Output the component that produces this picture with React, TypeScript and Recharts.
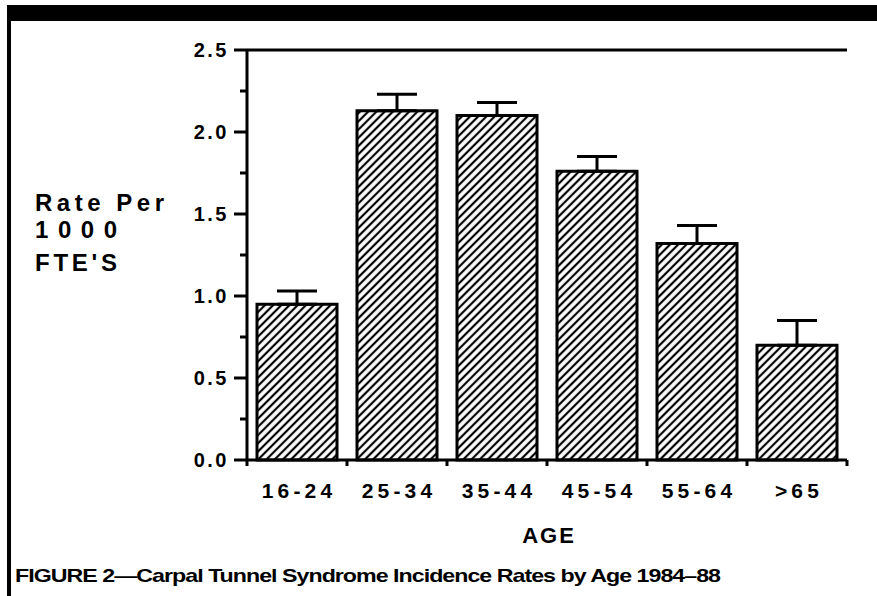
import React from 'react';
import { BarChart, Bar, XAxis, YAxis, ErrorBar, ReferenceLine } from 'recharts';

const ages = ['16-24', '25-34', '35-44', '45-54', '55-64', '>65'];
const rates = [0.95, 2.13, 2.1, 1.76, 1.32, 0.7];
const errUp = [0.08, 0.1, 0.08, 0.09, 0.11, 0.15];
const yTicks = [0, 0.25, 0.5, 0.75, 1, 1.25, 1.5, 1.75, 2, 2.25, 2.5];

const chartData = ages.map((age, i) => ({ age, rate: rates[i], err: [0, errUp[i]] }));

const FONT = '"Liberation Sans", Arial, Helvetica, sans-serif';

const YTick = ({ x, y, payload }: any) => {
  const major = Math.round(payload.value * 100) % 50 === 0;
  return (
    <g>
      <line x1={x - (major ? 13 : 7)} x2={x} y1={y} y2={y} stroke="#000" strokeWidth={3} />
      {major && (
        <text x={x - 18} y={y} dy={7} textAnchor="end" fontFamily={FONT} fontSize={20} fontWeight={700} letterSpacing={2.5} fill="#000">
          {payload.value.toFixed(1)}
        </text>
      )}
    </g>
  );
};

const XTick = ({ x, y, payload, index }: any) => {
  const half = payload.offset || 50;
  return (
    <g>
      <line x1={x - half} x2={x - half} y1={y} y2={y + 6} stroke="#000" strokeWidth={3} />
      {index === ages.length - 1 && (
        <line x1={x + half} x2={x + half} y1={y} y2={y + 6} stroke="#000" strokeWidth={3} />
      )}
      <text x={x + 2} y={y} dy={38} textAnchor="middle" fontFamily={FONT} fontSize={21} fontWeight={700} letterSpacing={4.2} fill="#000">
        {payload.value}
      </text>
    </g>
  );
};

export default function App() {
  return (
    <div style={{ position: 'absolute', top: 0, left: 0, width: 877, height: 596, background: '#fff' }}>
      <BarChart width={877} height={596} data={chartData} margin={{ top: 50, right: 30, left: 187, bottom: 106 }}>
        <defs>
          <pattern id="hatch" patternUnits="userSpaceOnUse" width={5.8} height={5.8} patternTransform="rotate(45)">
            <line x1={2.9} y1={0} x2={2.9} y2={5.8} stroke="#000" strokeWidth={2.2} />
          </pattern>
        </defs>
        <XAxis
          dataKey="age"
          height={30}
          tickSize={0}
          tickMargin={0}
          tickLine={false}
          axisLine={{ stroke: '#000', strokeWidth: 3 }}
          tick={<XTick />}
          interval={0}
        />
        <YAxis
          width={60}
          domain={[0, 2.5]}
          ticks={yTicks}
          interval={0}
          tickSize={0}
          tickMargin={0}
          tickLine={false}
          axisLine={{ stroke: '#000', strokeWidth: 3 }}
          tick={<YTick />}
        />
        <YAxis
          yAxisId="right"
          orientation="right"
          width={0}
          domain={[0, 2.5]}
          tick={false}
          tickLine={false}
          axisLine={{ stroke: '#000', strokeWidth: 3 }}
        />
        <ReferenceLine y={2.5} stroke="#000" strokeWidth={3} />
        <Bar dataKey="rate" barSize={80} fill="url(#hatch)" stroke="#000" strokeWidth={3} isAnimationActive={false}>
          <ErrorBar dataKey="err" direction="y" width={20} stroke="#000" strokeWidth={3} isAnimationActive={false} />
        </Bar>
      </BarChart>
      <svg width={877} height={596} style={{ position: 'absolute', top: 0, left: 0, pointerEvents: 'none' }}>
        <rect x={7} y={5} width={870} height={16} fill="#000" />
        <rect x={7} y={5} width={4} height={591} fill="#000" />
        <g fontFamily={FONT} fontWeight={700} fill="#000">
          <text x={35} y={211} fontSize={24} textLength={129} lengthAdjust="spacing">Rate Per</text>
          <text x={35} y={238} fontSize={24} textLength={82} lengthAdjust="spacing">1000</text>
          <text x={35} y={271} fontSize={24} textLength={82} lengthAdjust="spacing">FTE'S</text>
          <text x={549} y={543} fontSize={22} textAnchor="middle" letterSpacing={2}>AGE</text>
          <text x={15} y={582} fontSize={19} textLength={705} lengthAdjust="spacingAndGlyphs" letterSpacing={-0.8}>
            FIGURE 2—Carpal Tunnel Syndrome Incidence Rates by Age 1984–88
          </text>
        </g>
      </svg>
    </div>
  );
}
